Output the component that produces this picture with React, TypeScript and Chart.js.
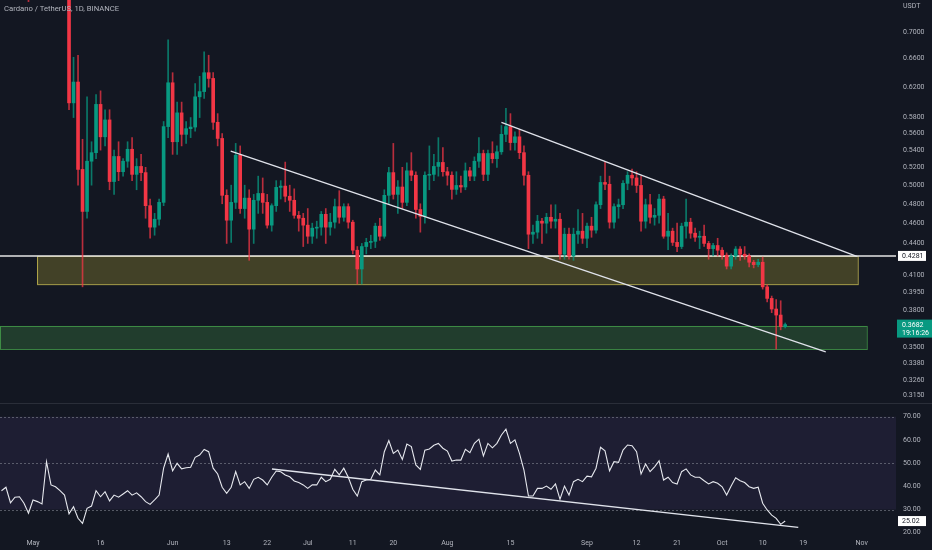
import React, { useEffect, useRef } from "react";
import { Chart, registerables } from "chart.js";

Chart.register(...registerables);

// Days are counted from 2022-05-01 (day 0). First candle: 2022-04-24.
const START_DAY = -7;

const opens = [
  0.930, 0.920, 0.930, 0.860, 0.880, 0.870, 0.820, 0.770, 0.790, 0.800,
  0.780, 0.860, 0.790, 0.785, 0.775, 0.765, 0.599, 0.627, 0.5176, 0.472,
  0.527, 0.537, 0.597, 0.556, 0.577, 0.504, 0.5325, 0.515, 0.527, 0.541,
  0.512, 0.521, 0.514, 0.478, 0.456, 0.464, 0.4815, 0.5686, 0.626, 0.550,
  0.586, 0.559, 0.566, 0.568, 0.607, 0.614, 0.640, 0.632, 0.574, 0.554,
  0.489, 0.463, 0.4815, 0.534, 0.475, 0.486, 0.454, 0.4837, 0.491, 0.4815,
  0.458, 0.478, 0.4976, 0.499, 0.488, 0.4837, 0.468, 0.465, 0.458, 0.447,
  0.455, 0.456, 0.469, 0.456, 0.461, 0.477, 0.466, 0.477, 0.461, 0.4335,
  0.416, 0.437, 0.441, 0.442, 0.457, 0.447, 0.489, 0.514, 0.490, 0.498,
  0.4815, 0.516, 0.511, 0.474, 0.467, 0.511, 0.512, 0.521, 0.5256, 0.515,
  0.511, 0.4954, 0.4997, 0.498, 0.516, 0.510, 0.527, 0.536, 0.512, 0.536,
  0.530, 0.538, 0.559, 0.5686, 0.549, 0.556, 0.537, 0.511, 0.449, 0.451,
  0.462, 0.460, 0.466, 0.462, 0.464, 0.4297, 0.449, 0.428, 0.449, 0.452,
  0.445, 0.457, 0.453, 0.479, 0.503, 0.501, 0.461, 0.477, 0.479, 0.502,
  0.511, 0.508, 0.4997, 0.462, 0.479, 0.466, 0.468, 0.485, 0.447, 0.452,
  0.441, 0.437, 0.457, 0.461, 0.450, 0.446, 0.447, 0.440, 0.435, 0.438,
  0.4335, 0.4288, 0.4186, 0.428, 0.4346, 0.4297, 0.428, 0.4222, 0.420, 0.4222,
  0.400, 0.390, 0.381, 0.376, 0.3665,
];

const highs = [
  0.950, 0.940, 0.940, 0.900, 0.910, 0.880, 0.830, 0.800, 0.810, 0.810,
  0.870, 0.870, 0.800, 0.790, 0.780, 0.770, 0.662, 0.665, 0.553, 0.607,
  0.550, 0.610, 0.615, 0.590, 0.590, 0.540, 0.550, 0.530, 0.550, 0.555,
  0.530, 0.535, 0.520, 0.485, 0.470, 0.485, 0.575, 0.688, 0.640, 0.600,
  0.600, 0.575, 0.580, 0.625, 0.635, 0.670, 0.665, 0.640, 0.585, 0.560,
  0.495, 0.500, 0.548, 0.545, 0.500, 0.495, 0.490, 0.510, 0.508, 0.490,
  0.480, 0.505, 0.505, 0.526, 0.500, 0.496, 0.472, 0.470, 0.475, 0.460,
  0.462, 0.472, 0.475, 0.470, 0.485, 0.494, 0.480, 0.480, 0.463, 0.437,
  0.440, 0.445, 0.448, 0.460, 0.465, 0.495, 0.520, 0.548, 0.505, 0.520,
  0.525, 0.537, 0.515, 0.480, 0.515, 0.545, 0.535, 0.555, 0.543, 0.520,
  0.515, 0.515, 0.510, 0.525, 0.520, 0.532, 0.555, 0.540, 0.540, 0.550,
  0.545, 0.570, 0.592, 0.585, 0.562, 0.565, 0.545, 0.515, 0.458, 0.468,
  0.465, 0.470, 0.479, 0.479, 0.470, 0.455, 0.455, 0.455, 0.474, 0.470,
  0.460, 0.466, 0.482, 0.510, 0.526, 0.510, 0.480, 0.485, 0.505, 0.515,
  0.518, 0.515, 0.510, 0.485, 0.490, 0.475, 0.490, 0.488, 0.470, 0.455,
  0.460, 0.460, 0.485, 0.465, 0.455, 0.452, 0.458, 0.442, 0.440, 0.445,
  0.436, 0.431, 0.430, 0.437, 0.437, 0.437, 0.430, 0.424, 0.425, 0.427,
  0.402, 0.392, 0.389, 0.388, 0.3695,
];

const lows = [
  0.910, 0.870, 0.850, 0.850, 0.860, 0.810, 0.748, 0.760, 0.770, 0.770,
  0.775, 0.780, 0.760, 0.765, 0.755, 0.590, 0.580, 0.500, 0.400, 0.465,
  0.500, 0.530, 0.540, 0.545, 0.495, 0.490, 0.505, 0.510, 0.520, 0.505,
  0.495, 0.505, 0.465, 0.445, 0.448, 0.458, 0.478, 0.555, 0.535, 0.535,
  0.545, 0.548, 0.555, 0.563, 0.580, 0.605, 0.620, 0.565, 0.545, 0.480,
  0.440, 0.441, 0.475, 0.470, 0.465, 0.424, 0.440, 0.470, 0.470, 0.455,
  0.452, 0.472, 0.485, 0.482, 0.472, 0.465, 0.452, 0.437, 0.440, 0.440,
  0.445, 0.448, 0.440, 0.448, 0.455, 0.460, 0.462, 0.455, 0.430, 0.4025,
  0.4025, 0.430, 0.435, 0.436, 0.443, 0.445, 0.480, 0.485, 0.470, 0.475,
  0.478, 0.505, 0.465, 0.451, 0.460, 0.495, 0.505, 0.510, 0.510, 0.500,
  0.485, 0.490, 0.492, 0.495, 0.505, 0.505, 0.520, 0.505, 0.505, 0.525,
  0.520, 0.535, 0.550, 0.540, 0.540, 0.530, 0.500, 0.435, 0.440, 0.445,
  0.440, 0.450, 0.455, 0.455, 0.425, 0.425, 0.425, 0.424, 0.440, 0.440,
  0.436, 0.446, 0.450, 0.475, 0.495, 0.455, 0.455, 0.465, 0.475, 0.495,
  0.500, 0.492, 0.452, 0.455, 0.460, 0.458, 0.460, 0.445, 0.434, 0.438,
  0.432, 0.435, 0.445, 0.445, 0.442, 0.435, 0.437, 0.425, 0.428, 0.428,
  0.425, 0.416, 0.416, 0.425, 0.424, 0.425, 0.418, 0.417, 0.418, 0.398,
  0.387, 0.378, 0.349, 0.364, 0.3655,
];

const closes = [
  0.920, 0.930, 0.860, 0.880, 0.870, 0.820, 0.770, 0.790, 0.800, 0.780,
  0.860, 0.790, 0.785, 0.775, 0.765, 0.599, 0.627, 0.5176, 0.472, 0.527,
  0.537, 0.597, 0.556, 0.577, 0.504, 0.5325, 0.515, 0.527, 0.541, 0.512,
  0.521, 0.514, 0.478, 0.456, 0.464, 0.4815, 0.5686, 0.626, 0.550, 0.586,
  0.559, 0.566, 0.568, 0.607, 0.614, 0.640, 0.632, 0.574, 0.554, 0.489,
  0.463, 0.4815, 0.534, 0.475, 0.486, 0.454, 0.4837, 0.491, 0.4815, 0.458,
  0.478, 0.4976, 0.499, 0.488, 0.4837, 0.468, 0.465, 0.458, 0.447, 0.455,
  0.456, 0.469, 0.456, 0.461, 0.477, 0.466, 0.477, 0.461, 0.4335, 0.416,
  0.437, 0.441, 0.442, 0.457, 0.447, 0.489, 0.514, 0.490, 0.498, 0.4815,
  0.516, 0.511, 0.474, 0.467, 0.511, 0.512, 0.521, 0.5256, 0.515, 0.511,
  0.4954, 0.4997, 0.498, 0.516, 0.510, 0.527, 0.536, 0.512, 0.536, 0.530,
  0.538, 0.559, 0.5686, 0.549, 0.556, 0.537, 0.511, 0.449, 0.451, 0.462,
  0.460, 0.466, 0.462, 0.464, 0.4297, 0.449, 0.428, 0.449, 0.452, 0.445,
  0.457, 0.453, 0.479, 0.503, 0.501, 0.461, 0.477, 0.479, 0.502, 0.511,
  0.508, 0.4997, 0.462, 0.479, 0.466, 0.468, 0.485, 0.447, 0.452, 0.441,
  0.437, 0.457, 0.461, 0.450, 0.446, 0.447, 0.440, 0.435, 0.438, 0.4335,
  0.4288, 0.4186, 0.428, 0.4346, 0.4297, 0.428, 0.4222, 0.420, 0.4222, 0.400,
  0.390, 0.381, 0.376, 0.3665, 0.3682,
];

const rsi = [
  38.1, 39.6, 32.9, 35.3, 35.5, 32.7, 28.4, 34.1, 33.4, 32.4,
  50.6, 40.6, 39.8, 38.1, 36.2, 28.1, 31.2, 26.2, 24.0, 30.5,
  31.5, 38.1, 35.5, 37.7, 33.7, 36.2, 35.3, 36.7, 38.1, 36.2,
  37.2, 35.5, 33.4, 32.2, 34.1, 36.2, 47.8, 53.9, 46.7, 49.9,
  47.5, 48.0, 48.2, 52.5, 53.5, 55.9, 54.9, 47.8, 45.3, 39.6,
  37.0, 39.6, 46.3, 40.6, 42.0, 39.1, 43.0, 43.9, 42.7, 40.6,
  43.9, 46.6, 46.3, 44.9, 44.1, 42.3, 41.6, 40.6, 39.1, 40.6,
  40.6, 43.9, 42.0, 43.0, 47.3, 44.9, 47.8, 43.9, 38.7, 35.8,
  42.0, 42.7, 43.0, 47.0, 44.9, 54.9, 59.7, 54.2, 55.6, 51.6,
  58.2, 57.1, 49.2, 47.3, 55.6, 56.1, 57.7, 58.5, 56.4, 55.2,
  50.9, 51.3, 51.3, 55.9, 54.5, 58.5, 60.3, 53.1, 58.5, 56.6,
  58.5, 62.1, 64.6, 58.5, 60.0, 54.2, 47.0, 35.8, 35.8, 39.1,
  39.1, 40.1, 38.7, 41.0, 34.4, 40.1, 36.2, 42.0, 43.0, 42.0,
  44.4, 44.1, 47.8, 56.8, 55.3, 46.7, 50.6, 50.3, 55.6, 57.8,
  57.5, 54.9, 45.3, 49.6, 46.3, 48.4, 51.0, 42.7, 43.9, 41.6,
  41.0, 46.3, 47.5, 44.9, 43.9, 43.9, 42.4, 41.0, 42.0, 41.3,
  39.8, 36.2, 40.1, 43.7, 42.4, 41.6, 39.8, 39.1, 39.6, 32.7,
  29.8, 27.6, 26.2, 23.6, 25.02,
];

const xTickDays = [0, 15, 31, 43, 52, 61, 71, 80, 92, 106, 123, 134, 143, 153, 162, 171, 184];
const xTickLabels = ["May", "16", "Jun", "13", "22", "Jul", "11", "20", "Aug", "15", "Sep", "12", "21", "Oct", "10", "19", "Nov"];
const priceTicks = [0.7, 0.66, 0.62, 0.58, 0.56, 0.54, 0.52, 0.5, 0.48, 0.46, 0.44, 0.41, 0.395, 0.38, 0.35, 0.338, 0.326, 0.315];
const rsiTicks = [20, 30, 40, 50, 60, 70];

const dayRange = [-7.325, 191.6];
const priceRange = [0.3109, 0.7507];
const rsiRange = [18.15, 75.9];

const upperTrend = [[104.0, 0.574], [182.9, 0.4277]];
const lowerTrend = [[43.9, 0.5387], [176.0, 0.3468]];
const rsiTrend = [[53.05, 47.45], [169.9, 22.3]];

const supportLevel = 0.4281;
const yellowZone = [0.9, 183.1, 0.4281, 0.4024];
const greenZone = [-7.325, 185.1, 0.3671, 0.349];
const lastPrice = 0.3682;
const countdown = "19:16:26";
const lastRsi = 25.02;
const rsiBand = [70, 50, 30];

const UP = "#089981";
const DOWN = "#F23645";
const UP_WICK = "rgba(8,153,129,0.75)";
const DOWN_WICK = "rgba(242,54,69,0.75)";
const BG = "#131722";
const TEXT = "#b2b5be";
const FONT = "Roboto, 'Liberation Sans', sans-serif";

const overlayPlugin = {
  id: "overlay",
  beforeDraw(chart: any) {
    const { ctx, width, height } = chart;
    ctx.save();
    ctx.fillStyle = BG;
    ctx.fillRect(0, 0, width, height);
    ctx.restore();
  },
  beforeDatasetsDraw(chart: any) {
    const { ctx, chartArea, scales } = chart;
    const xs = scales.x, ys = scales.y, rs = scales.y2;
    const L = chartArea.left, R = chartArea.right;
    ctx.save();
    // RSI band
    const y70 = rs.getPixelForValue(rsiBand[0]);
    const y30 = rs.getPixelForValue(rsiBand[2]);
    ctx.fillStyle = "rgba(126,87,194,0.11)";
    ctx.fillRect(L, y70, R - L, y30 - y70);
    ctx.strokeStyle = "rgba(140,143,154,0.55)";
    ctx.lineWidth = 1;
    ctx.setLineDash([2, 2]);
    rsiBand.forEach((v) => {
      const yy = Math.round(rs.getPixelForValue(v)) + 0.5;
      ctx.beginPath();
      ctx.moveTo(L, yy);
      ctx.lineTo(R, yy);
      ctx.stroke();
    });
    ctx.setLineDash([]);
    // pane separator
    ctx.strokeStyle = "#2a2e39";
    ctx.beginPath();
    ctx.moveTo(0, Math.round(ys.bottom) + 0.5);
    ctx.lineTo(chart.width, Math.round(ys.bottom) + 0.5);
    ctx.stroke();

    // zones
    const drawZone = (z: number[], fill: string, border: string) => {
      const x1 = xs.getPixelForValue(z[0]);
      const x2 = xs.getPixelForValue(z[1]);
      const y1 = ys.getPixelForValue(z[2]);
      const y2 = ys.getPixelForValue(z[3]);
      ctx.fillStyle = fill;
      ctx.fillRect(x1, y1, x2 - x1, y2 - y1);
      ctx.strokeStyle = border;
      ctx.lineWidth = 1;
      ctx.strokeRect(x1 + 0.5, y1 + 0.5, x2 - x1, y2 - y1);
    };
    drawZone(yellowZone, "rgba(255,235,59,0.2)", "rgba(230,215,90,0.7)");
    drawZone(greenZone, "rgba(76,175,80,0.25)", "rgba(76,175,80,0.7)");

    // support line
    const sy = ys.getPixelForValue(supportLevel);
    ctx.strokeStyle = "#e6e6e6";
    ctx.lineWidth = 1.5;
    ctx.beginPath();
    ctx.moveTo(L, sy);
    ctx.lineTo(R, sy);
    ctx.stroke();
    ctx.restore();
  },
  afterDraw(chart: any) {
    const { ctx, chartArea, scales } = chart;
    const ys = scales.y, rs = scales.y2;
    const R = chartArea.right;
    ctx.save();
    ctx.font = `7px ${FONT}`;
    ctx.textBaseline = "middle";
    ctx.textAlign = "left";
    const box = (yc: number, text: string, bg: string, fg: string) => {
      ctx.fillStyle = bg;
      ctx.fillRect(R + 2, yc - 5, 28, 10);
      ctx.fillStyle = fg;
      ctx.fillText(text, R + 6, yc + 0.5);
    };
    box(ys.getPixelForValue(supportLevel), supportLevel.toFixed(4), "#ffffff", BG);
    const py = ys.getPixelForValue(lastPrice);
    ctx.fillStyle = UP;
    ctx.fillRect(R + 1, py - 5, 35, 18);
    ctx.fillStyle = "#ffffff";
    ctx.fillText(lastPrice.toFixed(4), R + 6, py + 0.5);
    ctx.fillText(countdown, R + 6, py + 8.5);
    box(rs.getPixelForValue(lastRsi), lastRsi.toFixed(2), "#ffffff", BG);
    ctx.restore();
  },
};

const noPadding = (s: any) => {
  s.paddingTop = 0;
  s.paddingBottom = 0;
  s.paddingLeft = 0;
  s.paddingRight = 0;
};

export default function App() {
  const canvasRef = useRef<HTMLCanvasElement | null>(null);

  useEffect(() => {
    document.body.style.margin = "0";
    document.body.style.background = BG;
    const canvas = canvasRef.current;
    if (!canvas) return;

    const days = closes.map((_, i) => START_DAY + i);
    const isUp = closes.map((c, i) => c >= opens[i]);
    const bodyColors = isUp.map((u) => (u ? UP : DOWN));
    const wickColors = isUp.map((u) => (u ? UP_WICK : DOWN_WICK));

    const tickFont = { family: FONT, size: 7 };

    const chart = new Chart(canvas, {
      type: "bar",
      data: {
        datasets: [
          {
            type: "bar",
            data: days.map((d, i) => ({ x: d, y: [lows[i], highs[i]] })),
            backgroundColor: wickColors,
            barThickness: 1,
            grouped: false,
            yAxisID: "y",
            order: 3,
          } as any,
          {
            type: "bar",
            data: days.map((d, i) => ({ x: d, y: [opens[i], closes[i]] })),
            backgroundColor: bodyColors,
            barThickness: 3,
            minBarLength: 1,
            grouped: false,
            yAxisID: "y",
            order: 2,
          } as any,
          {
            type: "line",
            data: upperTrend.map((p) => ({ x: p[0], y: p[1] })),
            borderColor: "#e0e3eb",
            borderWidth: 1.3,
            pointRadius: 0,
            yAxisID: "y",
            order: 1,
          } as any,
          {
            type: "line",
            data: lowerTrend.map((p) => ({ x: p[0], y: p[1] })),
            borderColor: "#e0e3eb",
            borderWidth: 1.3,
            pointRadius: 0,
            yAxisID: "y",
            order: 1,
          } as any,
          {
            type: "line",
            data: days.map((d, i) => ({ x: d, y: rsi[i] })),
            borderColor: "#e6e8ee",
            borderWidth: 1.1,
            pointRadius: 0,
            tension: 0,
            yAxisID: "y2",
            order: 1,
          } as any,
          {
            type: "line",
            data: rsiTrend.map((p) => ({ x: p[0], y: p[1] })),
            borderColor: "#e0e3eb",
            borderWidth: 1.3,
            pointRadius: 0,
            yAxisID: "y2",
            order: 1,
          } as any,
        ],
      },
      options: {
        animation: false,
        responsive: false,
        events: [],
        layout: { padding: 0 },
        plugins: {
          legend: { display: false },
          tooltip: { enabled: false },
          title: { display: false },
        },
        scales: {
          x: {
            type: "linear",
            min: dayRange[0],
            max: dayRange[1],
            offset: false,
            position: "bottom",
            grid: { display: false, drawTicks: false },
            border: { display: false },
            afterBuildTicks: (s: any) => {
              s.ticks = xTickDays.map((v) => ({ value: v }));
            },
            afterFit: (s: any) => {
              s.height = 13;
              noPadding(s);
            },
            ticks: {
              autoSkip: false,
              maxRotation: 0,
              padding: 2,
              color: TEXT,
              font: tickFont,
              callback: (_v: any, i: number) => xTickLabels[i],
            },
          },
          y: {
            type: "logarithmic",
            position: "right",
            stack: "panes",
            stackWeight: 403,
            stacked: false,
            min: priceRange[0],
            max: priceRange[1],
            grid: { display: false, drawTicks: false },
            border: { display: false },
            afterBuildTicks: (s: any) => {
              s.ticks = priceTicks.map((v) => ({ value: v }));
            },
            afterFit: (s: any) => {
              s.width = 36;
              noPadding(s);
            },
            ticks: {
              autoSkip: false,
              padding: 7,
              color: TEXT,
              font: tickFont,
              callback: (v: any) => Number(v).toFixed(4),
            },
          },
          y2: {
            type: "linear",
            position: "right",
            stack: "panes",
            stackWeight: 134,
            stacked: false,
            min: rsiRange[0],
            max: rsiRange[1],
            grid: { display: false, drawTicks: false },
            border: { display: false },
            afterBuildTicks: (s: any) => {
              s.ticks = rsiTicks.map((v) => ({ value: v }));
            },
            afterFit: (s: any) => {
              s.width = 36;
              noPadding(s);
            },
            ticks: {
              autoSkip: false,
              padding: 7,
              color: TEXT,
              font: tickFont,
              callback: (v: any) => Number(v).toFixed(2),
            },
          },
        },
      } as any,
      plugins: [overlayPlugin],
    });

    return () => chart.destroy();
  }, []);

  return (
    <div style={{ position: "relative", width: 932, height: 550, background: BG, overflow: "hidden" }}>
      <canvas ref={canvasRef} width={932} height={550} style={{ display: "block" }} />
      <div
        style={{
          position: "absolute",
          left: 4,
          top: 4,
          fontFamily: FONT,
          fontSize: 7.7,
          color: TEXT,
          pointerEvents: "none",
          whiteSpace: "nowrap",
        }}
      >
        Cardano / TetherUS, 1D, BINANCE
      </div>
      <div
        style={{
          position: "absolute",
          left: 903,
          top: 2,
          fontFamily: FONT,
          fontSize: 7,
          color: TEXT,
          pointerEvents: "none",
        }}
      >
        USDT
      </div>
    </div>
  );
}
